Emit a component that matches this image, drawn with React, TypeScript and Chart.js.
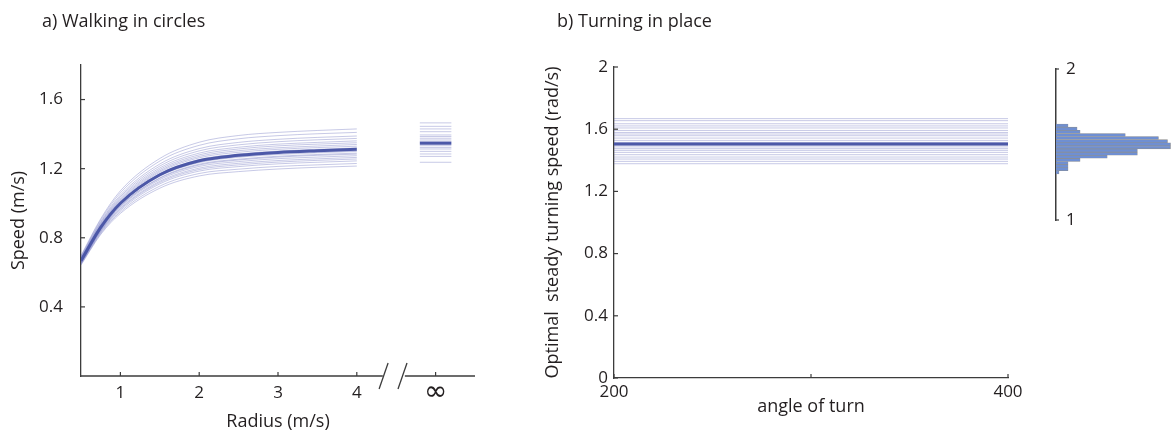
import React, { useEffect, useRef } from 'react';
import { Chart, registerables } from 'chart.js';

Chart.register(...registerables);

const FONT = "'Open Sans', sans-serif";
const TEXT = '#231f20';
const AXIS = '#3c3c3c';
const MAIN = '#4c58a8';
const THIN = 'rgba(85,90,180,0.33)';
const BAR = '#6f8fd2';

// ---------- Panel a: walking in circles ----------
const radii = [0.5, 0.75, 1, 1.5, 2, 2.5, 3, 3.5, 4];
const meanSpeed = [0.667, 0.86, 1.0, 1.165, 1.246, 1.277, 1.294, 1.304, 1.312];
const fanSpeeds: number[][] = [
  [0.642, 0.819, 0.941, 1.087, 1.158, 1.183, 1.198, 1.208, 1.215],
  [0.646, 0.825, 0.95, 1.099, 1.172, 1.197, 1.213, 1.222, 1.23],
  [0.65, 0.831, 0.959, 1.112, 1.186, 1.212, 1.228, 1.237, 1.245],
  [0.653, 0.836, 0.966, 1.12, 1.195, 1.222, 1.238, 1.248, 1.256],
  [0.655, 0.84, 0.971, 1.127, 1.203, 1.231, 1.247, 1.257, 1.265],
  [0.658, 0.844, 0.978, 1.136, 1.213, 1.241, 1.258, 1.267, 1.275],
  [0.66, 0.848, 0.983, 1.143, 1.221, 1.25, 1.267, 1.277, 1.284],
  [0.661, 0.85, 0.986, 1.147, 1.226, 1.255, 1.272, 1.282, 1.29],
  [0.664, 0.855, 0.993, 1.156, 1.235, 1.266, 1.282, 1.292, 1.3],
  [0.665, 0.857, 0.996, 1.16, 1.24, 1.271, 1.288, 1.297, 1.305],
  [0.668, 0.861, 1.002, 1.167, 1.248, 1.28, 1.297, 1.307, 1.315],
  [0.669, 0.863, 1.005, 1.171, 1.253, 1.285, 1.302, 1.312, 1.32],
  [0.672, 0.868, 1.011, 1.18, 1.263, 1.295, 1.312, 1.322, 1.33],
  [0.674, 0.872, 1.017, 1.187, 1.271, 1.304, 1.321, 1.331, 1.34],
  [0.677, 0.876, 1.023, 1.195, 1.28, 1.314, 1.332, 1.342, 1.35],
  [0.679, 0.881, 1.03, 1.204, 1.29, 1.324, 1.342, 1.352, 1.361],
  [0.683, 0.887, 1.038, 1.215, 1.303, 1.338, 1.356, 1.367, 1.375],
  [0.687, 0.893, 1.047, 1.227, 1.316, 1.352, 1.37, 1.381, 1.389],
  [0.692, 0.902, 1.06, 1.244, 1.335, 1.373, 1.391, 1.402, 1.41],
  [0.697, 0.91, 1.072, 1.259, 1.353, 1.392, 1.41, 1.421, 1.43],
];
const infSpan = [4.8, 5.2];
const infMean = 1.347;
const infSpeeds = [1.465, 1.445, 1.43, 1.414, 1.395, 1.386, 1.376, 1.366, 1.357, 1.333, 1.323, 1.314, 1.3, 1.285, 1.271, 1.237];
const radiusTicks = [1, 2, 3, 4, 5];
const radiusTickLabels = ['1', '2', '3', '4', '∞'];
const speedTicks = [0.4, 0.8, 1.2, 1.6];

// ---------- Panel b: turning in place ----------
const angleRange = [200, 400];
const angleTicks = [200, 300, 400];
const angleTickLabels = ['200', '', '400'];
const turnMean = 1.505;
const turnSpeeds = [1.668, 1.655, 1.635, 1.621, 1.608, 1.592, 1.579, 1.569, 1.558, 1.543, 1.528, 1.515, 1.497, 1.486, 1.475, 1.464, 1.451, 1.436, 1.421, 1.408, 1.393, 1.378];
const turnTicks = [0, 0.4, 0.8, 1.2, 1.6, 2];
const turnTickLabels = ['0', '0.4', '0.8', '1.2', '1.6', '2'];

// ---------- Histogram of turning speeds ----------
const binCenters = [1.315, 1.336, 1.356, 1.377, 1.398, 1.419, 1.439, 1.46, 1.481, 1.501, 1.522, 1.543, 1.563, 1.584, 1.605, 1.626];
const binCounts = [1, 4, 4, 4, 8, 17, 27, 27, 38, 38, 37, 34, 23, 8, 7, 4];
const histTicks = [1, 2];
const histTickLabels = ['1', '2'];

type TickSpec = { axis: 'x' | 'y'; values: number[]; len: number };

function axisPlugin(specs: TickSpec[], extra?: (chart: any) => void) {
  return {
    id: 'inwardTicks',
    afterDraw(chart: any) {
      const ctx = chart.ctx;
      const area = chart.chartArea;
      ctx.save();
      ctx.strokeStyle = AXIS;
      ctx.lineWidth = 1.2;
      for (const s of specs) {
        const scale = chart.scales[s.axis];
        for (const v of s.values) {
          const p = scale.getPixelForValue(v);
          ctx.beginPath();
          if (s.axis === 'x') {
            ctx.moveTo(p, area.bottom);
            ctx.lineTo(p, area.bottom - s.len);
          } else {
            ctx.moveTo(area.left, p);
            ctx.lineTo(area.left + s.len, p);
          }
          ctx.stroke();
        }
      }
      if (extra) extra(chart);
      ctx.restore();
    },
  };
}

const lineDs = (data: { x: number; y: number }[], color: string, width: number) => ({
  data,
  borderColor: color,
  backgroundColor: color,
  borderWidth: width,
  pointRadius: 0,
  fill: false,
});

const tickFont = { family: FONT, size: 17 };
const titleFont = { family: FONT, size: 18 };

function configA(): any {
  const datasets: any[] = [
    lineDs(radii.map((r, i) => ({ x: r, y: meanSpeed[i] })), MAIN, 3),
    lineDs([{ x: infSpan[0], y: infMean }, { x: infSpan[1], y: infMean }], MAIN, 3),
    ...fanSpeeds.map((arr) => lineDs(radii.map((r, i) => ({ x: r, y: arr[i] })), THIN, 1)),
    ...infSpeeds.map((v) => lineDs([{ x: infSpan[0], y: v }, { x: infSpan[1], y: v }], THIN, 1)),
  ];
  const drawBreak = (chart: any) => {
    const ctx = chart.ctx;
    const area = chart.chartArea;
    const xs = chart.scales.x;
    const y = area.bottom;
    ctx.lineWidth = 1.3;
    ctx.beginPath();
    ctx.moveTo(area.left, y);
    ctx.lineTo(xs.getPixelForValue(4.33), y);
    ctx.moveTo(xs.getPixelForValue(4.61), y);
    ctx.lineTo(area.right, y);
    ctx.stroke();
    for (const c of [4.34, 4.58]) {
      const px = xs.getPixelForValue(c);
      ctx.beginPath();
      ctx.moveTo(px - 4.5, y + 13);
      ctx.lineTo(px + 4.5, y - 13);
      ctx.stroke();
    }
  };
  return {
    type: 'line',
    data: { datasets },
    options: {
      responsive: false,
      animation: false,
      layout: { padding: { left: 0, top: 65, right: 15, bottom: 0 } },
      plugins: { legend: { display: false }, tooltip: { enabled: false }, title: { display: false } },
      elements: { line: { cubicInterpolationMode: 'monotone' } },
      scales: {
        x: {
          type: 'linear',
          min: 0.5,
          max: 5.5,
          afterFit: (s: any) => { s.height = 59; },
          afterBuildTicks: (s: any) => { s.ticks = radiusTicks.map((v) => ({ value: v })); },
          grid: { display: false, drawTicks: false },
          border: { display: false },
          ticks: {
            autoSkip: false,
            maxRotation: 0,
            padding: 7,
            color: TEXT,
            font: (ctx: any) =>
              ctx.tick && ctx.tick.value === 5
                ? { family: "'DejaVu Sans', sans-serif", size: 28, lineHeight: 0.72 }
                : tickFont,
            callback: (_v: any, i: number) => radiusTickLabels[i],
          },
          title: { display: true, text: 'Radius (m/s)', color: TEXT, font: titleFont, padding: { top: 0, bottom: 2 } },
        },
        y: {
          type: 'linear',
          min: 0,
          max: 1.8,
          afterFit: (s: any) => { s.width = 81; },
          afterBuildTicks: (s: any) => { s.ticks = speedTicks.map((v) => ({ value: v })); },
          grid: { display: false, drawTicks: false },
          border: { display: true, color: AXIS, width: 1.3 },
          ticks: { autoSkip: false, padding: 18, color: TEXT, font: tickFont, callback: (v: any) => Number(v).toFixed(1) },
          title: { display: true, text: 'Speed (m/s)', color: TEXT, font: titleFont, padding: { top: 8, bottom: 0 } },
        },
      },
    },
    plugins: [axisPlugin([{ axis: 'x', values: radiusTicks, len: 4 }, { axis: 'y', values: speedTicks, len: 4 }], drawBreak)],
  };
}

function configB(): any {
  const datasets: any[] = [
    lineDs([{ x: angleRange[0], y: turnMean }, { x: angleRange[1], y: turnMean }], MAIN, 3),
    ...turnSpeeds.map((v) => lineDs([{ x: angleRange[0], y: v }, { x: angleRange[1], y: v }], THIN, 1)),
  ];
  return {
    type: 'line',
    data: { datasets },
    options: {
      responsive: false,
      animation: false,
      layout: { padding: { left: 0, top: 67, right: 32, bottom: 0 } },
      plugins: { legend: { display: false }, tooltip: { enabled: false } },
      scales: {
        x: {
          type: 'linear',
          min: angleRange[0],
          max: angleRange[1],
          afterFit: (s: any) => { s.height = 57; },
          afterBuildTicks: (s: any) => { s.ticks = angleTicks.map((v) => ({ value: v })); },
          grid: { display: false, drawTicks: false },
          border: { display: true, color: AXIS, width: 1.3 },
          ticks: { autoSkip: false, maxRotation: 0, padding: 4, color: TEXT, font: tickFont, callback: (_v: any, i: number) => angleTickLabels[i] },
          title: { display: true, text: 'angle of turn', color: TEXT, font: titleFont, padding: { top: 0, bottom: 17 } },
        },
        y: {
          type: 'linear',
          min: 0,
          max: 2,
          afterFit: (s: any) => { s.width = 84; },
          afterBuildTicks: (s: any) => { s.ticks = turnTicks.map((v) => ({ value: v })); },
          grid: { display: false, drawTicks: false },
          border: { display: true, color: AXIS, width: 1.3 },
          ticks: { autoSkip: false, padding: 6, color: TEXT, font: tickFont, callback: (_v: any, i: number) => turnTickLabels[i] },
          title: { display: true, text: 'Optimal  steady turning speed (rad/s)', color: TEXT, font: titleFont, padding: { top: 12, bottom: 0 } },
        },
      },
    },
    plugins: [axisPlugin([{ axis: 'x', values: angleTicks, len: 4 }, { axis: 'y', values: turnTicks, len: 4 }])],
  };
}

function configC(): any {
  return {
    type: 'bar',
    data: {
      datasets: [
        {
          data: binCenters.map((c, i) => ({ x: binCounts[i], y: c })),
          backgroundColor: BAR,
          borderColor: '#8e8e8e',
          borderWidth: 0.6,
          barPercentage: 1,
          categoryPercentage: 1,
        },
      ],
    },
    options: {
      indexAxis: 'y',
      responsive: false,
      animation: false,
      layout: { padding: { left: 0, top: 69, right: 0, bottom: 215 } },
      plugins: { legend: { display: false }, tooltip: { enabled: false } },
      scales: {
        x: { type: 'linear', min: 0, max: 38.5, display: false },
        y: {
          type: 'linear',
          min: 1,
          max: 2,
          offset: false,
          afterFit: (s: any) => { s.width = 16; },
          afterBuildTicks: (s: any) => { s.ticks = histTicks.map((v) => ({ value: v })); },
          grid: { display: false, drawTicks: false, offset: false },
          border: { display: true, color: AXIS, width: 1.5 },
          ticks: { autoSkip: false, mirror: true, padding: 10, color: TEXT, font: tickFont, callback: (_v: any, i: number) => histTickLabels[i] },
        },
      },
    },
    plugins: [axisPlugin([{ axis: 'y', values: histTicks, len: 3 }])],
  };
}

export default function App() {
  const aRef = useRef<HTMLCanvasElement>(null);
  const bRef = useRef<HTMLCanvasElement>(null);
  const cRef = useRef<HTMLCanvasElement>(null);

  useEffect(() => {
    const charts = [
      new Chart(aRef.current as HTMLCanvasElement, configA()),
      new Chart(bRef.current as HTMLCanvasElement, configB()),
      new Chart(cRef.current as HTMLCanvasElement, configC()),
    ];
    return () => charts.forEach((c) => c.destroy());
  }, []);

  const titleStyle: React.CSSProperties = {
    position: 'absolute',
    top: 10,
    fontFamily: FONT,
    fontSize: 18,
    lineHeight: '21px',
    color: TEXT,
    whiteSpace: 'nowrap',
  };
  const canvasStyle = (left: number, w: number): React.CSSProperties => ({
    position: 'absolute',
    left,
    top: 0,
    width: w,
    height: 435,
    display: 'block',
  });

  return (
    <div style={{ position: 'fixed', left: 0, top: 0, width: 1172, height: 435, background: '#fff', overflow: 'hidden' }}>
      <canvas ref={aRef} width={490} height={435} style={canvasStyle(0, 490)} />
      <canvas ref={bRef} width={510} height={435} style={canvasStyle(530, 510)} />
      <canvas ref={cRef} width={132} height={435} style={canvasStyle(1040, 132)} />
      <div style={{ ...titleStyle, left: 42 }}>a) Walking in circles</div>
      <div style={{ ...titleStyle, left: 557 }}>b) Turning in place</div>
    </div>
  );
}
